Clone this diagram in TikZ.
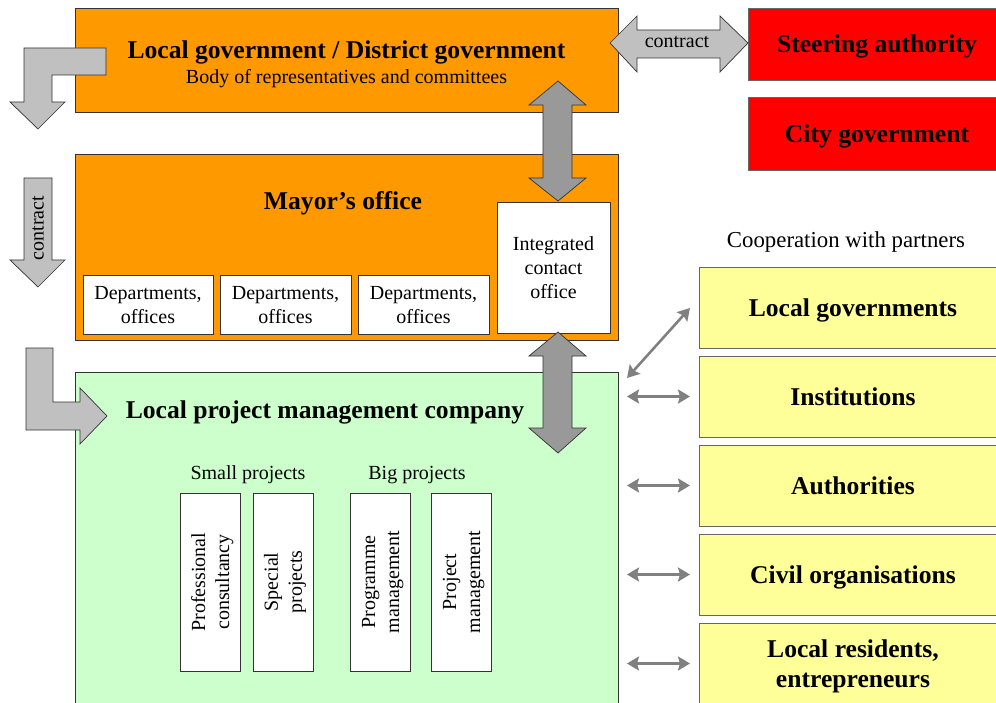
\documentclass[tikz,border=0pt]{standalone}
\usepackage{fontspec}
\setmainfont{Liberation Serif}
\usetikzlibrary{arrows.meta}
\definecolor{govorange}{HTML}{FF9900}
\definecolor{steerred}{HTML}{FF0000}
\definecolor{pmgreen}{HTML}{CCFFCC}
\definecolor{partneryellow}{HTML}{FFFF99}
\definecolor{blockgray}{HTML}{C0C0C0}
\definecolor{darkblock}{HTML}{999999}
\definecolor{linkgray}{HTML}{808080}
\begin{document}
\begin{tikzpicture}[x=1pt,y=-1pt,
  frame/.style={draw=black!80,line width=0.8pt,inner sep=0pt,outer sep=0pt},
  bigtxt/.style={font=\fontsize{25.6}{30.7}\selectfont\bfseries,align=center,text depth=0pt},
  smalltxt/.style={font=\fontsize{20}{24}\selectfont,align=center,text depth=0pt},
  orangebox/.style={frame,fill=govorange,minimum width=543pt},
  redbox/.style={frame,draw=black!60,fill=steerred,minimum width=258pt,bigtxt},
  yellowbox/.style={frame,draw=black!60,fill=partneryellow,minimum width=308pt,minimum height=81pt,bigtxt},
  whitebox/.style={frame,fill=white,smalltxt},
  projbox/.style={whitebox,rotate=90,minimum width=178pt,minimum height=60pt},
  deptbox/.style={whitebox,minimum height=59pt},
  block/.style={draw=black!80,line width=0.7pt,fill=blockgray,line join=miter},
  darkarrow/.style={block,fill=darkblock},
  partner/.style={draw=linkgray,line width=2.6pt,
    {Stealth[length=12pt,width=14pt,inset=2pt]}-{Stealth[length=12pt,width=14pt,inset=2pt]}}
]
\useasboundingbox (0,0) rectangle (996,703);
\clip (0,0) rectangle (996,703);

% --- main organisation boxes ---
\node[orangebox,minimum height=104pt] (lg) at (346.5,60) {};
\node[bigtxt] (lgtitle) at (346.5,50) {Local government / District government};
\node[smalltxt] (lgsub) at (346.5,76) {Body of representatives and committees};

\node[orangebox,minimum height=186pt] (mayor) at (346.5,247) {};
\node[bigtxt] (mayortitle) at (343,200) {Mayor’s office};
\node[deptbox,minimum width=130pt] (dept1) at (148,304.5) {Departments,\\offices};
\node[deptbox,minimum width=131pt] (dept2) at (285.5,304.5) {Departments,\\offices};
\node[deptbox,minimum width=131pt] (dept3) at (423.5,304.5) {Departments,\\offices};
\node[whitebox,minimum width=113pt,minimum height=131pt] (ico) at (553.5,267.5) {Integrated\\contact\\office};

\node[frame,fill=pmgreen,minimum width=543pt,minimum height=348pt] (lpm) at (346.5,546) {};
\node[bigtxt] (lpmtitle) at (325,410) {Local project management company};
\node[smalltxt] (small) at (248,473) {Small projects};
\node[smalltxt] (big) at (417,473) {Big projects};
\node[projbox] (p1) at (210,582) {Professional\\consultancy};
\node[projbox] (p2) at (283,582) {Special\\projects};
\node[projbox] (p3) at (380.5,582) {Programme\\management};
\node[projbox] (p4) at (461.5,582) {Project\\management};

% --- supervising bodies ---
\node[redbox,minimum height=72pt] (steer) at (877,44) {Steering authority};
\node[redbox,minimum height=73pt] (city) at (877,133.5) {City government};

% --- partners ---
\node[smalltxt,font=\fontsize{22.8}{27}\selectfont] (coop) at (846,240) {Cooperation with partners};
\node[yellowbox] (y1) at (853,307.5) {Local governments};
\node[yellowbox] (y2) at (853,396.5) {Institutions};
\node[yellowbox] (y3) at (853,485.5) {Authorities};
\node[yellowbox] (y4) at (853,574.5) {Civil organisations};
\node[yellowbox] (y5) at (853,663.5) {Local residents,\\entrepreneurs};

% --- block arrows on the left ---
\draw[block] (106,48) -- (106,75) -- (52,75) -- (52,102) -- (65,102) -- (38,129)
  -- (10,102) -- (24,102) -- (24,48) -- cycle;
\draw[block] (24,178) -- (52,178) -- (52,260) -- (65,260) -- (38,287) -- (10,260)
  -- (24,260) -- cycle;
\node[smalltxt,rotate=90] (contractv) at (38,228) {contract};
\draw[block] (26,348) -- (53,348) -- (53,402) -- (80,402) -- (80,388) -- (107,416)
  -- (80,444) -- (80,430) -- (26,430) -- cycle;

% --- contract link to the steering authority ---
\draw[block] (610,43) -- (637,16) -- (637,30) -- (720,30) -- (720,16) -- (748,43)
  -- (720,72) -- (720,58) -- (637,58) -- (637,72) -- cycle;
\node[smalltxt] (contracth) at (677,42) {contract};

% --- vertical links through the contact office ---
\draw[darkarrow] (558,81) -- (586,105) -- (572,105) -- (572,178) -- (586,178) -- (558,201)
  -- (529,178) -- (543,178) -- (543,105) -- (529,105) -- cycle;
\draw[darkarrow] (558,332) -- (586,356) -- (572,356) -- (572,428) -- (586,428) -- (558,453)
  -- (529,428) -- (543,428) -- (543,356) -- (529,356) -- cycle;

% --- partner links ---
\coordinate (d1) at (627,378);
\coordinate (d2) at (690,308);
\draw[partner] (d1) -- (d2);
\draw[partner] ([xshift=9pt]lpm.east |- y2.west) -- ([xshift=-9pt]y2.west);
\draw[partner] ([xshift=9pt]lpm.east |- y3.west) -- ([xshift=-9pt]y3.west);
\draw[partner] ([xshift=9pt]lpm.east |- y4.west) -- ([xshift=-9pt]y4.west);
\draw[partner] ([xshift=9pt]lpm.east |- y5.west) -- ([xshift=-9pt]y5.west);
\end{tikzpicture}
\end{document}
